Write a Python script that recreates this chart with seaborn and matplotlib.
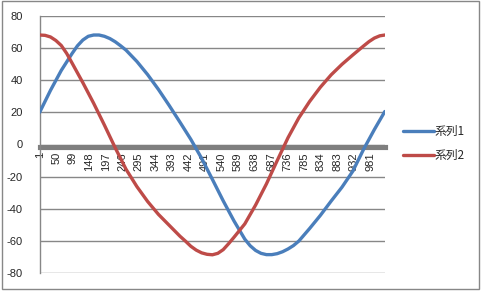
import matplotlib
matplotlib.use("Agg")
import matplotlib.pyplot as plt
from matplotlib.patches import Rectangle
from matplotlib.lines import Line2D
import pandas as pd
import seaborn as sns

# ---- data ----
n_categories = 1024
tick_categories = list(range(1, 982, 49))          # 1, 50, 99, ... 981
tick_labels = [str(c) for c in tick_categories]

series1_categories = [1, 33, 65, 97, 113, 129, 145, 161, 177, 193, 209, 225,
                      241, 257, 289, 321, 353, 385, 417, 449, 481, 513, 545,
                      577, 609, 625, 641, 657, 673, 689, 705, 721, 737, 753,
                      769, 801, 833, 865, 897, 929, 961, 993, 1024]
series1_values = [20.0, 33.6, 46.0, 56.5, 61.3, 64.9, 67.2, 68.0, 68.0, 67.2,
                  65.8, 63.8, 61.3, 58.6, 51.6, 43.4, 34.2, 24.2, 13.8, 3.2,
                  -8.6, -21.7, -35.0, -47.5, -58.8, -62.9, -65.8, -67.6, -68.4,
                  -68.4, -67.8, -66.6, -64.9, -62.8, -60.0, -52.2, -44.0, -35.1,
                  -26.5, -16.6, -3.0, 9.3, 20.5]

series2_categories = [1, 17, 33, 49, 65, 81, 97, 129, 161, 193, 225, 257, 289,
                      321, 353, 385, 417, 433, 449, 465, 481, 497, 513, 529,
                      545, 561, 577, 609, 641, 673, 705, 737, 769, 801, 833,
                      865, 897, 929, 945, 961, 977, 993, 1009, 1024]
series2_values = [68.0, 67.8, 66.8, 64.6, 61.5, 56.6, 50.6, 38.4, 25.6, 12.0,
                  -2.1, -15.4, -26.1, -35.4, -43.4, -50.2, -57.0, -60.0, -63.2,
                  -65.6, -67.3, -68.2, -68.5, -67.6, -65.3, -61.6, -57.6, -49.3,
                  -37.6, -24.5, -10.0, 4.2, 16.5, 26.7, 35.6, 43.3, 49.8, 55.6,
                  58.4, 61.2, 63.9, 66.1, 67.5, 68.0]

series_names = ["系列1", "系列2"]
colors = ["#4A7EBB", "#BE4B48"]
y_ticks = [-80, -60, -40, -20, 0, 20, 40, 60, 80]

df = pd.DataFrame({
    "category": series1_categories + series2_categories,
    "value": series1_values + series2_values,
    "series": [series_names[0]] * len(series1_values)
              + [series_names[1]] * len(series2_values),
})

# ---- figure ----
sns.set_style("white")
plt.rcParams["font.family"] = ["Liberation Sans", "Noto Sans CJK JP", "DejaVu Sans"]

dpi = 100
fig = plt.figure(figsize=(483 / dpi, 291 / dpi), dpi=dpi)
ax = fig.add_axes([39.5 / 483, 1 - 273.3 / 291, (385 - 39.5) / 483, (273.3 - 15.7) / 291])

sns.lineplot(data=df, x="category", y="value", hue="series", estimator=None,
             palette=colors, linewidth=2.4, ax=ax, legend=False, sort=False)

ax.set_xlim(0.5, n_categories + 0.5)
ax.set_ylim(-80, 80)
ax.set_xlabel("")
ax.set_ylabel("")

# y axis
ax.set_yticks(y_ticks)
ax.set_yticklabels([str(v) for v in y_ticks], fontsize=8)
ax.yaxis.grid(True, color="#878787", linewidth=1.0)
ax.set_axisbelow(True)
ax.tick_params(axis="y", length=4, width=1, color="#878787", pad=8, direction="out")

# x axis drawn as a thick gray band just under the zero line
ax.spines["bottom"].set_position(("data", -1.3))
ax.spines["bottom"].set_color("#7F7F7F")
ax.spines["bottom"].set_linewidth(3.7)
ax.spines["bottom"].set_zorder(1.5)
ax.spines["left"].set_color("#878787")
ax.spines["left"].set_linewidth(1.0)
ax.spines["top"].set_visible(False)
ax.spines["right"].set_visible(False)
ax.set_xticks(tick_categories)
ax.set_xticklabels(tick_labels, rotation=90, fontsize=8, va="top", ha="center")
ax.tick_params(axis="x", length=0, pad=4)

for line in ax.lines:
    line.set_zorder(3)
    line.set_solid_capstyle("round")
    line.set_solid_joinstyle("round")

# legend
handles = [Line2D([0], [0], color=c, linewidth=2.4) for c in colors]
fig.legend(handles, series_names, loc="center left",
           bbox_to_anchor=(403 / 483, 1 - 143.5 / 291), frameon=False,
           handlelength=2.6, handletextpad=0.1,
           labelspacing=0.95, borderpad=0, borderaxespad=0,
           prop={"family": ["Noto Sans CJK JP", "DejaVu Sans"], "size": 8.5})

# chart-area border
fig.patches.append(Rectangle((1.5 / 483, 1 - 289.3 / 291), (479 - 1.5) / 483, (289.3 - 1) / 291,
                             transform=fig.transFigure, fill=False,
                             edgecolor="#878787", linewidth=1.0))

fig.savefig("out.png", dpi=dpi)
